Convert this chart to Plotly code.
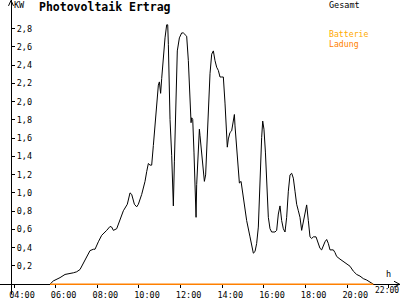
import plotly.graph_objects as go

# time of day (decimal hours) and total PV output (kW)
hours = [5.73, 5.89, 6.21, 6.45, 6.85, 7.01, 7.17, 7.33, 7.49, 7.65,
         7.81, 7.89, 8.05, 8.21, 8.45, 8.61, 8.69, 8.77, 8.93, 9.09,
         9.25, 9.44, 9.57, 9.65, 9.78, 9.89, 9.97, 10.13, 10.29, 10.37,
         10.45, 10.53, 10.61, 10.69, 10.77, 10.85, 10.93, 10.98, 11.04, 11.09,
         11.17, 11.25, 11.33, 11.38, 11.41, 11.49, 11.57, 11.65, 11.70, 11.76,
         11.84, 11.94, 12.05, 12.13, 12.21, 12.29, 12.37, 12.45, 12.50, 12.53,
         12.58, 12.64, 12.69, 12.74, 12.77, 12.85, 12.90, 12.93, 12.98, 13.03,
         13.09, 13.14, 13.20, 13.25, 13.33, 13.41, 13.49, 13.57, 13.65, 13.73,
         13.81, 13.89, 13.97, 14.05, 14.13, 14.18, 14.24, 14.29, 14.37, 14.45,
         14.53, 14.58, 14.61, 14.69, 14.77, 14.82, 14.90, 14.98, 15.09, 15.17,
         15.33, 15.49, 15.57, 15.65, 15.73, 15.81, 15.89, 15.94, 16.00, 16.07,
         16.13, 16.21, 16.29, 16.37, 16.53, 16.61, 16.69, 16.77, 16.85, 16.93,
         17.01, 17.09, 17.17, 17.25, 17.33, 17.41, 17.49, 17.57, 17.65, 17.73,
         17.81, 17.89, 17.97, 18.05, 18.13, 18.21, 18.29, 18.37, 18.50, 18.61,
         18.69, 18.77, 18.85, 18.93, 19.01, 19.09, 19.17, 19.33, 19.41, 19.49,
         19.65, 19.81, 19.97, 20.13, 20.29, 20.45, 20.61, 20.77, 20.93, 21.09,
         21.25]

gesamt_kw = [0, 0.036, 0.072, 0.107, 0.125, 0.136, 0.161, 0.232, 0.304, 0.368,
             0.383, 0.383, 0.465, 0.536, 0.590, 0.633, 0.626, 0.590, 0.608, 0.697,
             0.805, 0.876, 1.001, 0.984, 0.876, 0.848, 0.876, 0.984, 1.127, 1.234,
             1.323, 1.305, 1.305, 1.520, 1.770, 2.021, 2.182, 2.217, 2.092, 2.253,
             2.521, 2.700, 2.843, 2.843, 2.629, 1.806, 1.413, 0.858, 1.341, 1.949,
             2.557, 2.700, 2.754, 2.754, 2.736, 2.718, 2.450, 1.985, 1.770, 1.824,
             1.806, 1.448, 0.912, 0.733, 1.091, 1.592, 1.699, 1.627, 1.520, 1.413,
             1.234, 1.127, 1.198, 1.448, 1.878, 2.307, 2.521, 2.557, 2.450, 2.378,
             2.343, 2.271, 2.271, 2.271, 1.985, 1.735, 1.502, 1.592, 1.663, 1.681,
             1.806, 1.860, 1.735, 1.520, 1.305, 1.109, 1.127, 0.984, 0.805, 0.697,
             0.519, 0.340, 0.358, 0.447, 0.626, 1.162, 1.609, 1.788, 1.699, 1.448,
             1.091, 0.733, 0.608, 0.572, 0.572, 0.590, 0.769, 0.858, 0.697, 0.608,
             0.572, 0.733, 1.019, 1.198, 1.216, 1.162, 1.019, 0.876, 0.805, 0.733,
             0.590, 0.680, 0.805, 0.869, 0.697, 0.519, 0.501, 0.519, 0.519, 0.447,
             0.393, 0.376, 0.429, 0.465, 0.490, 0.447, 0.376, 0.376, 0.347, 0.304,
             0.275, 0.250, 0.225, 0.197, 0.143, 0.107, 0.089, 0.061, 0.046, 0.025,
             0]

# battery charging series (flat zero over the day)
ladung_hours = [5.73, 21.25]
ladung_kw = [0, 0]

x_tickvals = [4, 6, 8, 10, 12, 14, 16, 18, 20, 22]
x_ticktext = ["04:00", "06:00", "08:00", "10:00", "12:00", "14:00",
              "16:00", "18:00", "20:00", "22:00"]
y_tickvals = [0.2, 0.4, 0.6, 0.8, 1.0, 1.2, 1.4, 1.6, 1.8, 2.0, 2.2, 2.4, 2.6, 2.8]
y_ticktext = ["0,2", "0,4", "0,6", "0,8", "1,0", "1,2", "1,4", "1,6", "1,8",
              "2,0", "2,2", "2,4", "2,6", "2,8"]

MONO = "DejaVu Sans Mono"
BLACK = "#000000"
ORANGE = "#FF8000"
AMBER = "#FFAA00"

fig = go.Figure()
fig.add_trace(go.Scatter(x=hours, y=gesamt_kw, mode="lines", name="Gesamt",
                         line=dict(color=BLACK, width=1), showlegend=False,
                         hoverinfo="skip"))
fig.add_trace(go.Scatter(x=ladung_hours, y=ladung_kw, mode="lines", name="Ladung",
                         line=dict(color=ORANGE, width=1.6), showlegend=False,
                         hoverinfo="skip"))

W, H = 400, 300
def px(x):
    return x / W
def py(y):
    return 1 - y / H

fig.update_layout(
    width=W, height=H,
    margin=dict(l=0, r=0, t=0, b=0),
    paper_bgcolor="white", plot_bgcolor="white",
    showlegend=False,
    xaxis=dict(range=[3.328, 22.531], anchor="free", position=py(290),
               showgrid=False, zeroline=False, showline=True, linecolor=BLACK,
               linewidth=1, ticks="outside", ticklen=3, tickcolor=BLACK,
               tickvals=x_tickvals, ticktext=x_ticktext, ticklabelshift=8,
               tickfont=dict(family=MONO, size=8.5, color=BLACK),
               layer="below traces", fixedrange=True),
    yaxis=dict(range=[-0.1074, 3.1149], anchor="free", position=px(11),
               side="right",
               showgrid=False, zeroline=False, showline=True, linecolor=BLACK,
               linewidth=1, ticks="outside", ticklen=3, tickcolor=BLACK,
               tickvals=y_tickvals, ticktext=y_ticktext,
               tickfont=dict(family=MONO, size=8.5, color=BLACK),
               layer="below traces", fixedrange=True),
)

# axis arrowheads
fig.add_shape(type="path", xref="paper", yref="paper",
              path=f"M {px(8.5)},{py(6)} L {px(11)},{py(0.5)} L {px(13.5)},{py(6)}",
              line=dict(color=BLACK, width=1))
fig.add_shape(type="path", xref="paper", yref="paper",
              path=f"M {px(394)},{py(287)} L {px(399.5)},{py(290)} L {px(394)},{py(293)}",
              line=dict(color=BLACK, width=1))

def note(text, x, y, color=BLACK, size=8.5, bold=False, xanchor="left",
         yanchor="middle"):
    fig.add_annotation(text=f"<b>{text}</b>" if bold else text,
                       xref="paper", yref="paper", x=px(x), y=py(y),
                       xanchor=xanchor, yanchor=yanchor, showarrow=False,
                       borderpad=0, borderwidth=0,
                       font=dict(family=MONO, size=size, color=color))

# last tick label, kept inside the right edge
note(x_ticktext[-1], 399, 296, xanchor="right", size=8)

note("Photovoltaik Ertrag", 39, 7.5, size=11.5, bold=True)
note("KW", 14, 5.5)
note("Gesamt", 329, 5)
note("Batterie", 329, 34.5, color=AMBER, size=8.2)
note("Ladung", 329, 45, color=ORANGE, size=8.2)
note("h", 388, 280, xanchor="center")

fig.write_html("out.html")
